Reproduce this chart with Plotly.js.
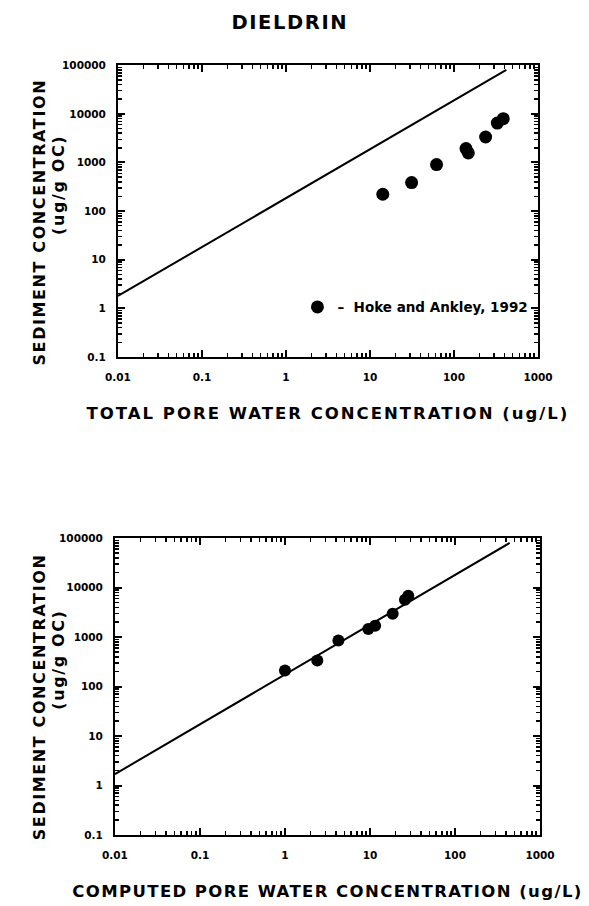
<!DOCTYPE html>
<html>
<head>
<meta charset="utf-8">
<script src="https://cdn.plot.ly/plotly-3.0.1.min.js"></script>
<style>
html,body{margin:0;padding:0;background:#fff;}
#chart .gtitle{letter-spacing:1.6px;}
#chart .xtitle{letter-spacing:2.0px;}
#chart .x2title{letter-spacing:1.4px;}
#chart .annotation-text{letter-spacing:1.6px;}
</style>
</head>
<body>
<div id="chart" style="width:589px;height:906px;"></div>
<script>
// Top panel: total pore water concentration (ug/L) vs sediment concentration (ug/g OC)
var totalPoreWater = [14.2, 31.3, 62, 139, 148, 238, 328, 386];
var sedimentTop    = [222, 386, 906, 1930, 1570, 3340, 6470, 7960];
// Bottom panel: computed (DOC-corrected) pore water concentration
var computedPoreWater = [1.0, 2.4, 4.25, 9.55, 11.5, 18.5, 25.8, 28.2];
var sedimentBottom    = [212, 338, 858, 1460, 1700, 2980, 5720, 6890];
// Partitioning (Koc) lines
var lineTopX = [0.01, 420];
var lineTopY = [1.8, 80000];
var lineBotX = [0.01, 440];
var lineBotY = [1.7, 80000];
// Tick labels
var xTickVals = [0.01, 0.1, 1, 10, 100, 1000];
var xTickText = ['0.01', '0.1', '1', '10', '100', '1000'];
var yTickVals = [0.1, 1, 10, 100, 1000, 10000, 100000];
var yTickText = ['0.1', '1', '10', '100', '1000', '10000', '100000'];

var FONT = 'DejaVu Sans, Verdana, sans-serif';

// minor tick positions (2..9 within each decade) for the log axes
function minorVals(lo, hi) {
  var v = [];
  for (var e = lo; e < hi; e++) for (var m = 2; m <= 9; m++) v.push(m * Math.pow(10, e));
  return v;
}

var traces = [
  {x: lineTopX, y: lineTopY, mode: 'lines', line: {color: '#000', width: 2}, showlegend: false, xaxis: 'x', yaxis: 'y', hoverinfo: 'skip'},
  {x: totalPoreWater, y: sedimentTop, mode: 'markers', name: '–  Hoke and Ankley, 1992',
   marker: {color: '#000', size: 13, symbol: 'circle'}, xaxis: 'x', yaxis: 'y'},
  {x: lineBotX, y: lineBotY, mode: 'lines', line: {color: '#000', width: 2}, showlegend: false, xaxis: 'x2', yaxis: 'y2', hoverinfo: 'skip'},
  {x: computedPoreWater, y: sedimentBottom, mode: 'markers', showlegend: false,
   marker: {color: '#000', size: 12, symbol: 'circle'}, xaxis: 'x2', yaxis: 'y2'}
];

function logAxis(range, vals, text, minor, extra) {
  var a = {
    type: 'log', range: range, tickmode: 'array', tickvals: vals, ticktext: text,
    ticks: 'inside', ticklen: 7, tickwidth: 2, tickcolor: '#000',
    mirror: 'allticks', showline: true, linecolor: '#000', linewidth: 2,
    showgrid: false, zeroline: false,
    tickfont: {family: FONT, size: 10.5, color: '#000', weight: 'bold'},
    minor: {tickmode: 'array', tickvals: minor, ticks: 'inside', ticklen: 4, tickwidth: 1.5, tickcolor: '#000', showgrid: false}
  };
  for (var k in extra) a[k] = extra[k];
  return a;
}

var xMinor = minorVals(-2, 3);
var yMinor = minorVals(-1, 5);

var titleFont = {family: FONT, size: 16.5, color: '#000', weight: 'bold'};
var yTitleFont = {family: FONT, size: 16, color: '#000', weight: 'bold'};

function yTitle(text, x, y) {
  return {text: text, xref: 'paper', yref: 'paper', x: x, y: y, xanchor: 'center', yanchor: 'middle',
          textangle: -90, showarrow: false, font: yTitleFont};
}

var layout = {
  width: 589, height: 906,
  margin: {l: 0, r: 0, t: 0, b: 0},
  paper_bgcolor: '#fff', plot_bgcolor: '#fff',
  title: {text: 'DIELDRIN', font: {family: FONT, size: 19.5, color: '#000', weight: 'bold'}, x: 0.492, xanchor: 'center', y: 0.976, yanchor: 'middle'},
  xaxis: logAxis([-2, 3], xTickVals, xTickText, xMinor, {domain: [0.2003, 0.9134], anchor: 'y',
    ticklabelstandoff: 9,
    title: {text: 'TOTAL PORE WATER CONCENTRATION (ug/L)', font: titleFont, standoff: 26}}),
  yaxis: logAxis([-1, 5], yTickVals, yTickText, yMinor, {domain: [0.606, 0.928], anchor: 'x',
    ticklabelstandoff: 8}),
  xaxis2: logAxis([-2, 3], xTickVals, xTickText, xMinor, {domain: [0.1952, 0.9168], anchor: 'y2',
    ticklabelstandoff: 9,
    title: {text: 'COMPUTED PORE WATER CONCENTRATION (ug/L)', font: titleFont, standoff: 26}}),
  yaxis2: logAxis([-1, 5], yTickVals, yTickText, yMinor, {domain: [0.0784, 0.406], anchor: 'x2',
    ticklabelstandoff: 8}),
  annotations: [
    yTitle('SEDIMENT CONCENTRATION', 0.068, 0.754),
    yTitle('(ug/g OC)', 0.100, 0.796),
    yTitle('SEDIMENT CONCENTRATION', 0.068, 0.230),
    yTitle('(ug/g OC)', 0.100, 0.272)
  ],
  showlegend: true,
  legend: {x: 0.505, xanchor: 'left', y: 0.661, yanchor: 'middle', bgcolor: 'rgba(0,0,0,0)',
    font: {family: FONT, size: 13.5, color: '#000', weight: 'bold'}, itemwidth: 30}
};

Plotly.newPlot('chart', traces, layout, {staticPlot: true});
</script>
</body>
</html>
